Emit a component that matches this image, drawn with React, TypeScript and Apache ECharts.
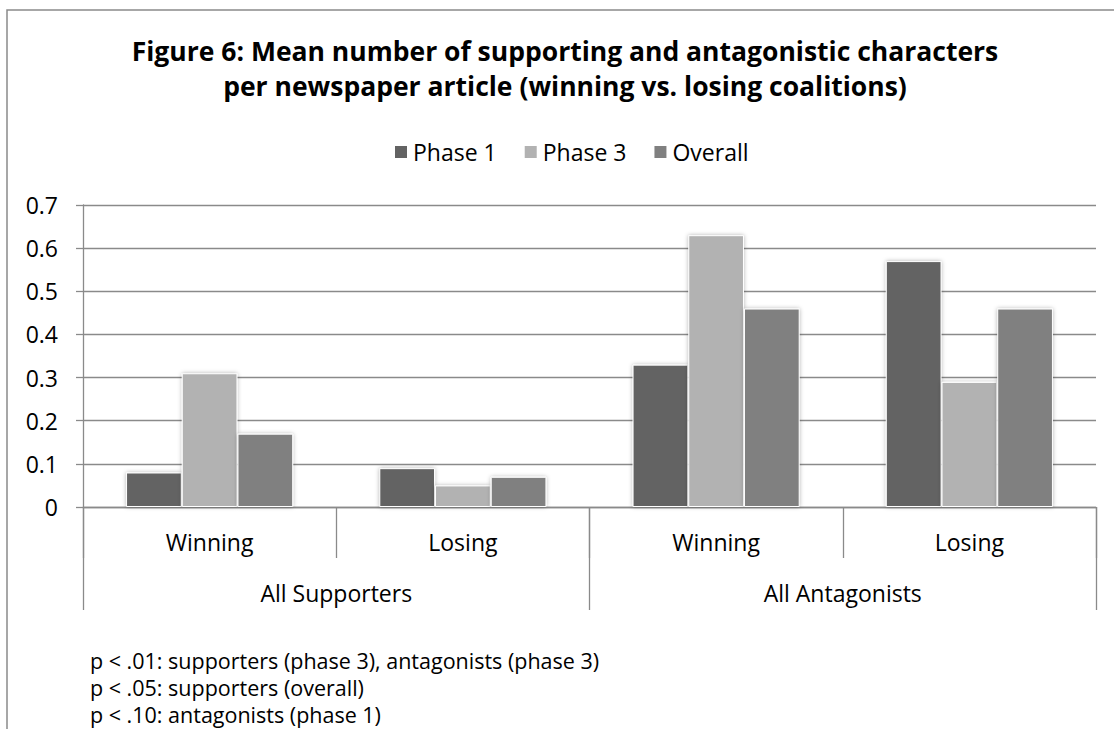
import React, { useEffect, useRef } from "react";
import * as echarts from "echarts";

const categories = ["Winning", "Losing", "Winning", "Losing"];
const groups = ["All Supporters", "All Antagonists"];
const seriesNames = ["Phase 1", "Phase 3", "Overall"];
const phase1 = [0.08, 0.09, 0.33, 0.57];
const phase3 = [0.31, 0.05, 0.63, 0.29];
const overall = [0.17, 0.07, 0.46, 0.46];
const colors = ["#636363", "#b2b2b2", "#808080"];
const titleLines = [
  "Figure 6: Mean number of supporting and antagonistic characters",
  "per newspaper article (winning vs. losing coalitions)",
];
const footnotes = [
  "p < .01: supporters (phase 3), antagonists (phase 3)",
  "p < .05: supporters (overall)",
  "p < .10: antagonists (phase 1)",
];

const FONT = "'Open Sans', 'Noto Sans', sans-serif";
const GRAY = "#8a8a8a";

export default function App() {
  const ref = useRef<HTMLDivElement>(null);
  useEffect(() => {
    if (!ref.current) return;
    const chart = echarts.init(ref.current, undefined, { renderer: "svg" });
    const dataSets = [phase1, phase3, overall];
    const option: any = {
      animation: false,
      backgroundColor: "#fff",
      textStyle: { fontFamily: FONT },
      title: {
        text: titleLines.join("\n"),
        left: 565,
        textAlign: "center",
        top: 33,
        padding: 0,
        textStyle: {
          fontFamily: FONT,
          fontSize: 26.5,
          fontWeight: "bold",
          lineHeight: 35,
          color: "#000",
        },
      },
      legend: {
        data: seriesNames,
        left: 393,
        top: 140,
        padding: 0,
        itemWidth: 14,
        itemHeight: 14,
        itemGap: 26,
        icon: "rect",
        textStyle: { fontFamily: FONT, fontSize: 23, color: "#000", lineHeight: 24 },
      },
      grid: { left: 83, top: 205, width: 1013, height: 302, containLabel: false },
      xAxis: [
        {
          type: "category",
          data: categories,
          position: "bottom",
          axisLine: { show: true, lineStyle: { color: GRAY, width: 1.3 } },
          axisTick: { show: true, interval: 0, length: 51, lineStyle: { color: GRAY, width: 1.3 } },
          axisLabel: { fontFamily: FONT, fontSize: 23, color: "#000", margin: 23, interval: 0 },
          splitLine: { show: false },
        },
        {
          type: "category",
          data: groups,
          position: "bottom",
          offset: 0,
          axisLine: { show: false },
          axisTick: { show: true, interval: 0, length: 103, lineStyle: { color: GRAY, width: 1.3 } },
          axisLabel: { fontFamily: FONT, fontSize: 23, color: "#000", margin: 74, interval: 0 },
          splitLine: { show: false },
        },
      ],
      yAxis: {
        type: "value",
        min: 0,
        max: 0.7,
        interval: 0.1,
        axisLine: { show: true, lineStyle: { color: GRAY, width: 1.3 } },
        axisTick: { show: true, length: 7, lineStyle: { color: GRAY, width: 1.3 } },
        axisLabel: {
          fontFamily: FONT,
          fontSize: 23,
          color: "#000",
          margin: 25,
          formatter: (v: number) => (v === 0 ? "0" : v.toFixed(1)),
        },
        splitLine: { show: true, lineStyle: { color: GRAY, width: 1.3 } },
      },
      series: seriesNames.map((name, i) => ({
        name,
        type: "bar",
        xAxisIndex: 0,
        data: dataSets[i],
        barGap: "0%",
        barCategoryGap: "34%",
        itemStyle: {
          color: colors[i],
          borderColor: "#fff",
          borderWidth: 1,
          shadowBlur: 4,
          shadowColor: "rgba(0,0,0,0.3)",
        },
      })),
      graphic: [
        {
          type: "rect",
          shape: { x: 7, y: 10, width: 1400, height: 1000 },
          style: { fill: "none", stroke: GRAY, lineWidth: 1.5 },
          silent: true,
          z: -1,
        },
        ...footnotes.map((t, i) => ({
          type: "text",
          x: 90,
          y: 660 + i * 27,
          style: {
            text: t,
            fontFamily: FONT,
            fontSize: 21.5,
            fill: "#000",
            verticalAlign: "middle",
            align: "left",
          },
        })),
      ],
    };
    chart.setOption(option);
    return () => chart.dispose();
  }, []);
  return (
    <div
      ref={ref}
      style={{ position: "fixed", left: 0, top: 0, width: 1114, height: 729 }}
    />
  );
}
